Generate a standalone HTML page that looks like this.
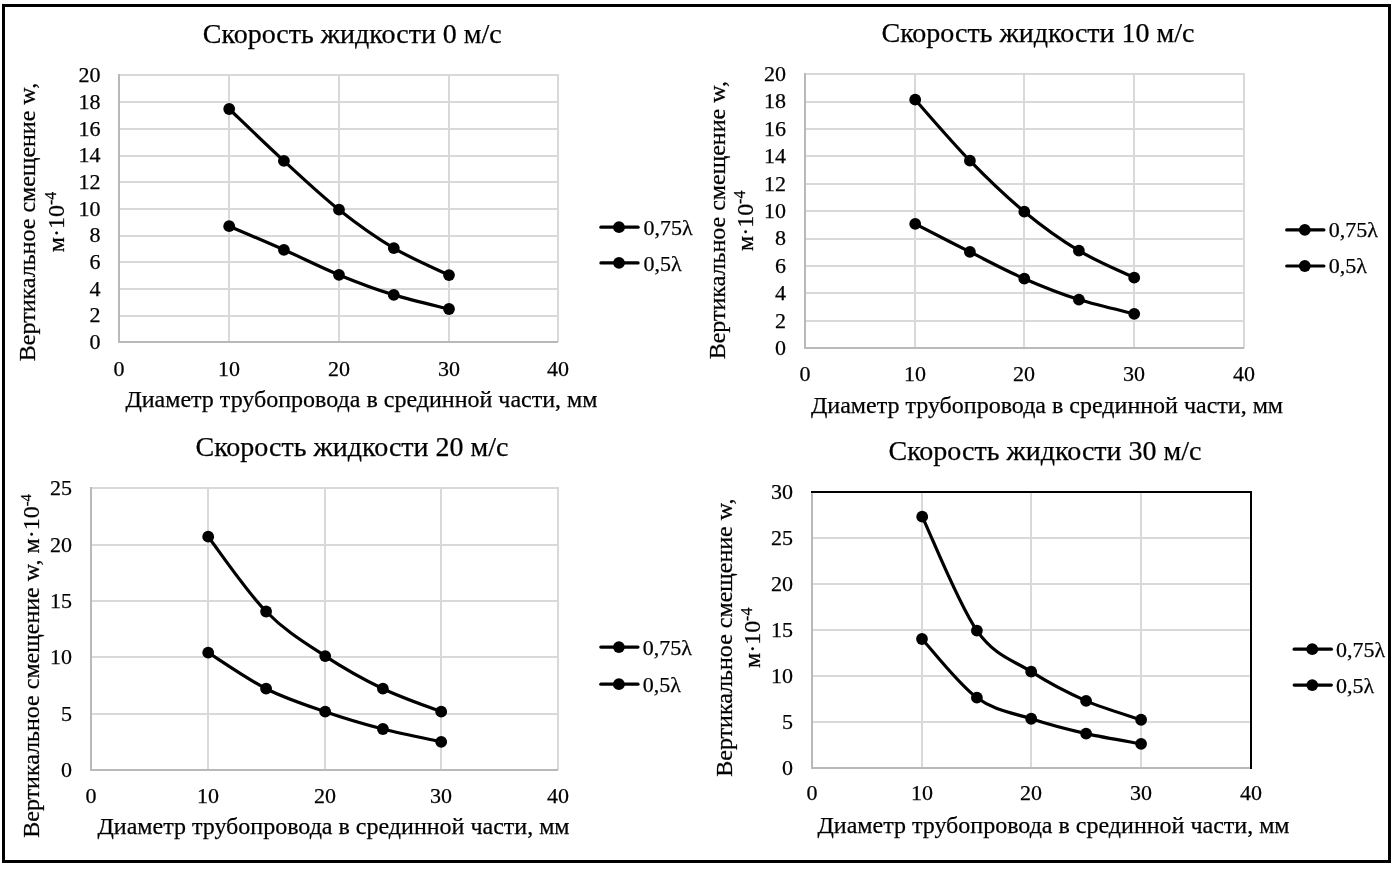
<!DOCTYPE html>
<html lang="ru"><head><meta charset="utf-8"><title>Графики</title>
<style>html,body{margin:0;padding:0;background:#fff}svg{display:block}text{font-family:'Liberation Serif', 'Times New Roman', serif;fill:#000;stroke:#000;stroke-width:0.25px}</style></head><body>
<svg width="1398" height="870" viewBox="0 0 1398 870">
<rect x="0" y="0" width="1398" height="870" fill="#fff"/>
<rect x="3.5" y="5.5" width="1386" height="856" fill="none" stroke="#000" stroke-width="3" shape-rendering="crispEdges"/>
<g>
<g shape-rendering="crispEdges" fill="none">
<line x1="118" y1="316" x2="559" y2="316" stroke="#d9d9d9" stroke-width="2"/>
<line x1="118" y1="289" x2="559" y2="289" stroke="#d9d9d9" stroke-width="2"/>
<line x1="118" y1="262" x2="559" y2="262" stroke="#d9d9d9" stroke-width="2"/>
<line x1="118" y1="236" x2="559" y2="236" stroke="#d9d9d9" stroke-width="2"/>
<line x1="118" y1="209" x2="559" y2="209" stroke="#d9d9d9" stroke-width="2"/>
<line x1="118" y1="182" x2="559" y2="182" stroke="#d9d9d9" stroke-width="2"/>
<line x1="118" y1="156" x2="559" y2="156" stroke="#d9d9d9" stroke-width="2"/>
<line x1="118" y1="129" x2="559" y2="129" stroke="#d9d9d9" stroke-width="2"/>
<line x1="118" y1="102" x2="559" y2="102" stroke="#d9d9d9" stroke-width="2"/>
<line x1="118" y1="75" x2="559" y2="75" stroke="#d9d9d9" stroke-width="2"/>
<line x1="229" y1="74" x2="229" y2="342" stroke="#d9d9d9" stroke-width="2"/>
<line x1="339" y1="74" x2="339" y2="342" stroke="#d9d9d9" stroke-width="2"/>
<line x1="449" y1="74" x2="449" y2="342" stroke="#d9d9d9" stroke-width="2"/>
<line x1="558" y1="74" x2="558" y2="342" stroke="#d9d9d9" stroke-width="2"/>
<line x1="119" y1="74" x2="119" y2="343" stroke="#b9b9b9" stroke-width="2"/>
<line x1="118" y1="342" x2="558" y2="342" stroke="#b9b9b9" stroke-width="2"/>
</g>
<text x="100.6" y="349.15" font-size="22" text-anchor="end">0</text>
<text x="100.6" y="322.45" font-size="22" text-anchor="end">2</text>
<text x="100.6" y="295.75" font-size="22" text-anchor="end">4</text>
<text x="100.6" y="269.05" font-size="22" text-anchor="end">6</text>
<text x="100.6" y="242.35" font-size="22" text-anchor="end">8</text>
<text x="100.6" y="215.65" font-size="22" text-anchor="end">10</text>
<text x="100.6" y="188.95" font-size="22" text-anchor="end">12</text>
<text x="100.6" y="162.25" font-size="22" text-anchor="end">14</text>
<text x="100.6" y="135.55" font-size="22" text-anchor="end">16</text>
<text x="100.6" y="108.85" font-size="22" text-anchor="end">18</text>
<text x="100.6" y="82.15" font-size="22" text-anchor="end">20</text>
<text x="119.00" y="376" font-size="22" text-anchor="middle">0</text>
<text x="229.00" y="376" font-size="22" text-anchor="middle">10</text>
<text x="339.00" y="376" font-size="22" text-anchor="middle">20</text>
<text x="449.00" y="376" font-size="22" text-anchor="middle">30</text>
<text x="558.00" y="376" font-size="22" text-anchor="middle">40</text>
<text x="352.3" y="42.8" font-size="28" text-anchor="middle">Скорость жидкости 0 м/с</text>
<text x="361.4" y="407.2" font-size="24" text-anchor="middle">Диаметр трубопровода в срединной части, мм</text>
<text transform="translate(35.3,222) rotate(-90)" font-size="24" text-anchor="middle">Вертикальное смещение w,</text>
<text transform="translate(64,222) rotate(-90)" font-size="24" text-anchor="middle">м·10<tspan font-size="16" dy="-8">-4</tspan></text>
<path d="M229.20,109.00 C238.32,117.65 265.60,144.12 283.90,160.90 C302.20,177.68 320.68,195.17 339.00,209.70 C357.32,224.23 375.47,237.20 393.80,248.10 C412.13,259.00 439.80,270.60 449.00,275.10" fill="none" stroke="#000" stroke-width="3.2" stroke-linecap="round" stroke-linejoin="round"/>
<circle cx="229.2" cy="109.0" r="5.9" fill="#000"/>
<circle cx="283.9" cy="160.9" r="5.9" fill="#000"/>
<circle cx="339.0" cy="209.7" r="5.9" fill="#000"/>
<circle cx="393.8" cy="248.1" r="5.9" fill="#000"/>
<circle cx="449.0" cy="275.1" r="5.9" fill="#000"/>
<path d="M229.20,226.20 C238.32,230.13 265.60,241.68 283.90,249.80 C302.20,257.92 320.68,267.38 339.00,274.90 C357.32,282.42 375.47,289.22 393.80,294.90 C412.13,300.58 439.80,306.65 449.00,309.00" fill="none" stroke="#000" stroke-width="3.2" stroke-linecap="round" stroke-linejoin="round"/>
<circle cx="229.2" cy="226.2" r="5.9" fill="#000"/>
<circle cx="283.9" cy="249.8" r="5.9" fill="#000"/>
<circle cx="339.0" cy="274.9" r="5.9" fill="#000"/>
<circle cx="393.8" cy="294.9" r="5.9" fill="#000"/>
<circle cx="449.0" cy="309.0" r="5.9" fill="#000"/>
<line x1="600.90" y1="227.2" x2="638.10" y2="227.2" stroke="#000" stroke-width="3.2" stroke-linecap="round"/>
<circle cx="619.0" cy="227.2" r="5.9" fill="#000"/>
<text x="643.40" y="235.00" font-size="22">0,75λ</text>
<line x1="600.90" y1="262.9" x2="638.10" y2="262.9" stroke="#000" stroke-width="3.2" stroke-linecap="round"/>
<circle cx="619.0" cy="262.9" r="5.9" fill="#000"/>
<text x="643.40" y="270.70" font-size="22">0,5λ</text>
</g>
<g>
<g shape-rendering="crispEdges" fill="none">
<line x1="804" y1="321" x2="1245" y2="321" stroke="#d9d9d9" stroke-width="2"/>
<line x1="804" y1="293" x2="1245" y2="293" stroke="#d9d9d9" stroke-width="2"/>
<line x1="804" y1="266" x2="1245" y2="266" stroke="#d9d9d9" stroke-width="2"/>
<line x1="804" y1="239" x2="1245" y2="239" stroke="#d9d9d9" stroke-width="2"/>
<line x1="804" y1="211" x2="1245" y2="211" stroke="#d9d9d9" stroke-width="2"/>
<line x1="804" y1="184" x2="1245" y2="184" stroke="#d9d9d9" stroke-width="2"/>
<line x1="804" y1="156" x2="1245" y2="156" stroke="#d9d9d9" stroke-width="2"/>
<line x1="804" y1="129" x2="1245" y2="129" stroke="#d9d9d9" stroke-width="2"/>
<line x1="804" y1="102" x2="1245" y2="102" stroke="#d9d9d9" stroke-width="2"/>
<line x1="804" y1="74" x2="1245" y2="74" stroke="#d9d9d9" stroke-width="2"/>
<line x1="915" y1="73" x2="915" y2="348" stroke="#d9d9d9" stroke-width="2"/>
<line x1="1024" y1="73" x2="1024" y2="348" stroke="#d9d9d9" stroke-width="2"/>
<line x1="1134" y1="73" x2="1134" y2="348" stroke="#d9d9d9" stroke-width="2"/>
<line x1="1244" y1="73" x2="1244" y2="348" stroke="#d9d9d9" stroke-width="2"/>
<line x1="805" y1="73" x2="805" y2="349" stroke="#b9b9b9" stroke-width="2"/>
<line x1="804" y1="348" x2="1244" y2="348" stroke="#b9b9b9" stroke-width="2"/>
</g>
<text x="786" y="355.05" font-size="22" text-anchor="end">0</text>
<text x="786" y="327.65" font-size="22" text-anchor="end">2</text>
<text x="786" y="300.25" font-size="22" text-anchor="end">4</text>
<text x="786" y="272.85" font-size="22" text-anchor="end">6</text>
<text x="786" y="245.45" font-size="22" text-anchor="end">8</text>
<text x="786" y="218.05" font-size="22" text-anchor="end">10</text>
<text x="786" y="190.65" font-size="22" text-anchor="end">12</text>
<text x="786" y="163.25" font-size="22" text-anchor="end">14</text>
<text x="786" y="135.85" font-size="22" text-anchor="end">16</text>
<text x="786" y="108.45" font-size="22" text-anchor="end">18</text>
<text x="786" y="81.05" font-size="22" text-anchor="end">20</text>
<text x="805.00" y="381" font-size="22" text-anchor="middle">0</text>
<text x="915.00" y="381" font-size="22" text-anchor="middle">10</text>
<text x="1024.00" y="381" font-size="22" text-anchor="middle">20</text>
<text x="1134.00" y="381" font-size="22" text-anchor="middle">30</text>
<text x="1244.00" y="381" font-size="22" text-anchor="middle">40</text>
<text x="1038" y="42.3" font-size="28" text-anchor="middle">Скорость жидкости 10 м/с</text>
<text x="1047" y="412.8" font-size="24" text-anchor="middle">Диаметр трубопровода в срединной части, мм</text>
<text transform="translate(725,220.2) rotate(-90)" font-size="24" text-anchor="middle">Вертикальное смещение w,</text>
<text transform="translate(752.6,220.8) rotate(-90)" font-size="24" text-anchor="middle">м·10<tspan font-size="16" dy="-8">-4</tspan></text>
<path d="M915.20,99.70 C924.32,109.87 951.72,142.03 969.90,160.70 C988.08,179.37 1006.13,196.70 1024.30,211.70 C1042.47,226.70 1060.58,239.70 1078.90,250.70 C1097.22,261.70 1124.98,273.20 1134.20,277.70" fill="none" stroke="#000" stroke-width="3.2" stroke-linecap="round" stroke-linejoin="round"/>
<circle cx="915.2" cy="99.7" r="5.9" fill="#000"/>
<circle cx="969.9" cy="160.7" r="5.9" fill="#000"/>
<circle cx="1024.3" cy="211.7" r="5.9" fill="#000"/>
<circle cx="1078.9" cy="250.7" r="5.9" fill="#000"/>
<circle cx="1134.2" cy="277.7" r="5.9" fill="#000"/>
<path d="M915.20,223.90 C924.32,228.57 951.72,242.77 969.90,251.90 C988.08,261.03 1006.13,270.75 1024.30,278.70 C1042.47,286.65 1060.58,293.75 1078.90,299.60 C1097.22,305.45 1124.98,311.43 1134.20,313.80" fill="none" stroke="#000" stroke-width="3.2" stroke-linecap="round" stroke-linejoin="round"/>
<circle cx="915.2" cy="223.9" r="5.9" fill="#000"/>
<circle cx="969.9" cy="251.9" r="5.9" fill="#000"/>
<circle cx="1024.3" cy="278.7" r="5.9" fill="#000"/>
<circle cx="1078.9" cy="299.6" r="5.9" fill="#000"/>
<circle cx="1134.2" cy="313.8" r="5.9" fill="#000"/>
<line x1="1286.70" y1="229.9" x2="1323.90" y2="229.9" stroke="#000" stroke-width="3.2" stroke-linecap="round"/>
<circle cx="1304.8" cy="229.9" r="5.9" fill="#000"/>
<text x="1328.80" y="237.20" font-size="22">0,75λ</text>
<line x1="1286.70" y1="266.0" x2="1323.90" y2="266.0" stroke="#000" stroke-width="3.2" stroke-linecap="round"/>
<circle cx="1304.8" cy="266.0" r="5.9" fill="#000"/>
<text x="1328.80" y="273.30" font-size="22">0,5λ</text>
</g>
<g>
<g shape-rendering="crispEdges" fill="none">
<line x1="90" y1="714" x2="559" y2="714" stroke="#d9d9d9" stroke-width="2"/>
<line x1="90" y1="657" x2="559" y2="657" stroke="#d9d9d9" stroke-width="2"/>
<line x1="90" y1="601" x2="559" y2="601" stroke="#d9d9d9" stroke-width="2"/>
<line x1="90" y1="545" x2="559" y2="545" stroke="#d9d9d9" stroke-width="2"/>
<line x1="90" y1="488" x2="559" y2="488" stroke="#d9d9d9" stroke-width="2"/>
<line x1="208" y1="487" x2="208" y2="770" stroke="#d9d9d9" stroke-width="2"/>
<line x1="325" y1="487" x2="325" y2="770" stroke="#d9d9d9" stroke-width="2"/>
<line x1="441" y1="487" x2="441" y2="770" stroke="#d9d9d9" stroke-width="2"/>
<line x1="558" y1="487" x2="558" y2="770" stroke="#d9d9d9" stroke-width="2"/>
<line x1="91" y1="487" x2="91" y2="771" stroke="#b9b9b9" stroke-width="2"/>
<line x1="90" y1="770" x2="558" y2="770" stroke="#b9b9b9" stroke-width="2"/>
</g>
<text x="72" y="777.20" font-size="22" text-anchor="end">0</text>
<text x="72" y="720.80" font-size="22" text-anchor="end">5</text>
<text x="72" y="664.40" font-size="22" text-anchor="end">10</text>
<text x="72" y="608.00" font-size="22" text-anchor="end">15</text>
<text x="72" y="551.60" font-size="22" text-anchor="end">20</text>
<text x="72" y="495.20" font-size="22" text-anchor="end">25</text>
<text x="91.00" y="802.6" font-size="22" text-anchor="middle">0</text>
<text x="208.00" y="802.6" font-size="22" text-anchor="middle">10</text>
<text x="325.00" y="802.6" font-size="22" text-anchor="middle">20</text>
<text x="441.00" y="802.6" font-size="22" text-anchor="middle">30</text>
<text x="558.00" y="802.6" font-size="22" text-anchor="middle">40</text>
<text x="352" y="456.3" font-size="28" text-anchor="middle">Скорость жидкости 20 м/с</text>
<text x="333.5" y="833.9" font-size="24" text-anchor="middle">Диаметр трубопровода в срединной части, мм</text>
<text transform="translate(38.8,666) rotate(-90)" font-size="24" text-anchor="middle">Вертикальное смещение w, м·10<tspan font-size="14.5" dy="-7.7">-4</tspan></text>
<path d="M208.20,536.70 C217.85,549.17 246.60,591.60 266.10,611.50 C285.60,631.40 305.73,643.23 325.20,656.10 C344.67,668.97 363.57,679.43 382.90,688.70 C402.23,697.97 431.48,707.87 441.20,711.70" fill="none" stroke="#000" stroke-width="3.2" stroke-linecap="round" stroke-linejoin="round"/>
<circle cx="208.2" cy="536.7" r="5.9" fill="#000"/>
<circle cx="266.1" cy="611.5" r="5.9" fill="#000"/>
<circle cx="325.2" cy="656.1" r="5.9" fill="#000"/>
<circle cx="382.9" cy="688.7" r="5.9" fill="#000"/>
<circle cx="441.2" cy="711.7" r="5.9" fill="#000"/>
<path d="M208.20,652.70 C217.85,658.70 246.60,678.87 266.10,688.70 C285.60,698.53 305.73,704.98 325.20,711.70 C344.67,718.42 363.57,723.98 382.90,729.00 C402.23,734.02 431.48,739.67 441.20,741.80" fill="none" stroke="#000" stroke-width="3.2" stroke-linecap="round" stroke-linejoin="round"/>
<circle cx="208.2" cy="652.7" r="5.9" fill="#000"/>
<circle cx="266.1" cy="688.7" r="5.9" fill="#000"/>
<circle cx="325.2" cy="711.7" r="5.9" fill="#000"/>
<circle cx="382.9" cy="729.0" r="5.9" fill="#000"/>
<circle cx="441.2" cy="741.8" r="5.9" fill="#000"/>
<line x1="600.80" y1="647.1" x2="638.00" y2="647.1" stroke="#000" stroke-width="3.2" stroke-linecap="round"/>
<circle cx="618.9" cy="647.1" r="5.9" fill="#000"/>
<text x="642.65" y="655.20" font-size="22">0,75λ</text>
<line x1="600.80" y1="684.2" x2="638.00" y2="684.2" stroke="#000" stroke-width="3.2" stroke-linecap="round"/>
<circle cx="618.9" cy="684.2" r="5.9" fill="#000"/>
<text x="642.65" y="691.60" font-size="22">0,5λ</text>
</g>
<g>
<g shape-rendering="crispEdges" fill="none">
<line x1="811" y1="722" x2="1252" y2="722" stroke="#d9d9d9" stroke-width="2"/>
<line x1="811" y1="676" x2="1252" y2="676" stroke="#d9d9d9" stroke-width="2"/>
<line x1="811" y1="630" x2="1252" y2="630" stroke="#d9d9d9" stroke-width="2"/>
<line x1="811" y1="584" x2="1252" y2="584" stroke="#d9d9d9" stroke-width="2"/>
<line x1="811" y1="538" x2="1252" y2="538" stroke="#d9d9d9" stroke-width="2"/>
<line x1="811" y1="492" x2="1252" y2="492" stroke="#d9d9d9" stroke-width="2"/>
<line x1="922" y1="491" x2="922" y2="768" stroke="#d9d9d9" stroke-width="2"/>
<line x1="1031" y1="491" x2="1031" y2="768" stroke="#d9d9d9" stroke-width="2"/>
<line x1="1141" y1="491" x2="1141" y2="768" stroke="#d9d9d9" stroke-width="2"/>
<line x1="1251" y1="491" x2="1251" y2="768" stroke="#d9d9d9" stroke-width="2"/>
<line x1="812" y1="491" x2="812" y2="769" stroke="#b9b9b9" stroke-width="2"/>
<line x1="811" y1="768" x2="1251" y2="768" stroke="#b9b9b9" stroke-width="2"/>
<path d="M811,492 H1251 V769" stroke="#000" stroke-width="2"/>
</g>
<text x="793" y="775.00" font-size="22" text-anchor="end">0</text>
<text x="793" y="729.00" font-size="22" text-anchor="end">5</text>
<text x="793" y="683.00" font-size="22" text-anchor="end">10</text>
<text x="793" y="637.00" font-size="22" text-anchor="end">15</text>
<text x="793" y="591.00" font-size="22" text-anchor="end">20</text>
<text x="793" y="545.00" font-size="22" text-anchor="end">25</text>
<text x="793" y="499.00" font-size="22" text-anchor="end">30</text>
<text x="812.00" y="800.3" font-size="22" text-anchor="middle">0</text>
<text x="922.00" y="800.3" font-size="22" text-anchor="middle">10</text>
<text x="1031.00" y="800.3" font-size="22" text-anchor="middle">20</text>
<text x="1141.00" y="800.3" font-size="22" text-anchor="middle">30</text>
<text x="1251.00" y="800.3" font-size="22" text-anchor="middle">40</text>
<text x="1045" y="459.7" font-size="28" text-anchor="middle">Скорость жидкости 30 м/с</text>
<text x="1053.5" y="832.8" font-size="24" text-anchor="middle">Диаметр трубопровода в срединной части, мм</text>
<text transform="translate(732,637.6) rotate(-90)" font-size="24" text-anchor="middle">Вертикальное смещение w,</text>
<text transform="translate(760,637.8) rotate(-90)" font-size="24" text-anchor="middle">м·10<tspan font-size="16" dy="-8">-4</tspan></text>
<path d="M922.20,516.65 C931.32,535.64 958.73,604.76 976.90,630.60 C995.07,656.44 1013.00,659.98 1031.20,671.70 C1049.40,683.42 1067.78,692.89 1086.10,700.90 C1104.42,708.91 1131.93,716.61 1141.10,719.75" fill="none" stroke="#000" stroke-width="3.2" stroke-linecap="round" stroke-linejoin="round"/>
<circle cx="922.2" cy="516.65" r="5.9" fill="#000"/>
<circle cx="976.9" cy="630.6" r="5.9" fill="#000"/>
<circle cx="1031.2" cy="671.7" r="5.9" fill="#000"/>
<circle cx="1086.1" cy="700.9" r="5.9" fill="#000"/>
<circle cx="1141.1" cy="719.75" r="5.9" fill="#000"/>
<path d="M922.00,639.00 C931.15,648.78 958.70,684.41 976.90,697.70 C995.10,710.99 1013.00,712.77 1031.20,718.75 C1049.40,724.73 1067.78,729.43 1086.10,733.60 C1104.42,737.77 1131.93,742.10 1141.10,743.80" fill="none" stroke="#000" stroke-width="3.2" stroke-linecap="round" stroke-linejoin="round"/>
<circle cx="922.0" cy="639.0" r="5.9" fill="#000"/>
<circle cx="976.9" cy="697.7" r="5.9" fill="#000"/>
<circle cx="1031.2" cy="718.75" r="5.9" fill="#000"/>
<circle cx="1086.1" cy="733.6" r="5.9" fill="#000"/>
<circle cx="1141.1" cy="743.8" r="5.9" fill="#000"/>
<line x1="1294.15" y1="649.15" x2="1331.35" y2="649.15" stroke="#000" stroke-width="3.2" stroke-linecap="round"/>
<circle cx="1312.25" cy="649.15" r="5.9" fill="#000"/>
<text x="1336.05" y="656.65" font-size="22">0,75λ</text>
<line x1="1294.15" y1="685.1" x2="1331.35" y2="685.1" stroke="#000" stroke-width="3.2" stroke-linecap="round"/>
<circle cx="1312.25" cy="685.1" r="5.9" fill="#000"/>
<text x="1336.05" y="692.75" font-size="22">0,5λ</text>
</g>
</svg></body></html>
